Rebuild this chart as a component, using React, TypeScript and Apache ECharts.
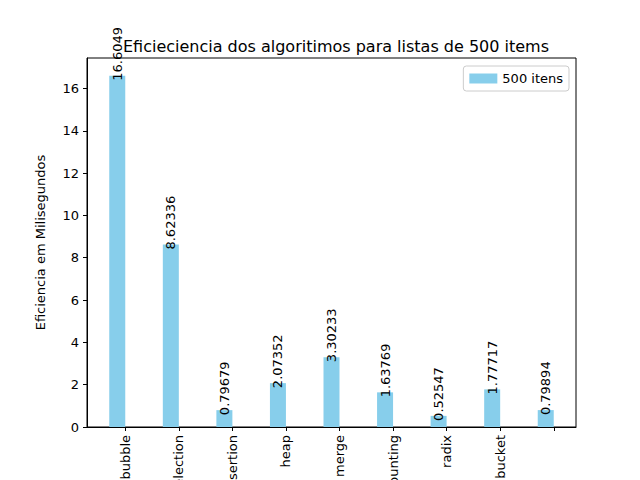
import React, { useRef, useEffect } from "react";
import * as echarts from "echarts";

const algorithms = ["bubble", "selection", "insertion", "heap", "merge", "counting", "radix", "bucket", ""];
const times = [16.6049, 8.62336, 0.79679, 2.07352, 3.30233, 1.63769, 0.52547, 1.77717, 0.79894];
const yTicks = [0, 2, 4, 6, 8, 10, 12, 14, 16];

const FONT = "DejaVu Sans";

export default function App() {
  const ref = useRef<HTMLDivElement>(null);

  useEffect(() => {
    if (!ref.current) return;
    const chart = echarts.init(ref.current, undefined, { renderer: "svg" });
    const idx = algorithms.map((_, i) => i);
    chart.setOption({
      animation: false,
      textStyle: { fontFamily: FONT },
      title: {
        text: "Eficieciencia dos algoritimos para listas de 500 items",
        left: 331,
        top: 33,
        textAlign: "center",
        textStyle: { fontFamily: FONT, fontSize: 16, fontWeight: "normal", color: "#000" },
      },
      legend: {
        top: 66,
        right: 71,
        data: ["500 itens"],
        itemWidth: 28,
        itemHeight: 10,
        itemGap: 8,
        padding: [6, 6, 6, 6],
        borderColor: "#ccc",
        borderWidth: 1,
        borderRadius: 3,
        icon: "rect",
        textStyle: { fontFamily: FONT, fontSize: 13, color: "#000" },
      },
      grid: {
        left: 87, right: 64, top: 58, bottom: 53,
        outerBoundsMode: "none",
        containLabel: false,
        show: true, borderColor: "#000", borderWidth: 1, backgroundColor: "transparent",
      },
      xAxis: {
        type: "value",
        min: -0.715,
        max: 8.415,
        splitLine: { show: false },
        axisLine: { onZero: false, lineStyle: { color: "#000" } },
        axisTick: { customValues: idx, length: 4, lineStyle: { color: "#000" } },
        axisLabel: {
          customValues: idx,
          rotate: 90,
          color: "#000",
          fontSize: 13,
          fontFamily: FONT,
          formatter: (v: number) => algorithms[Math.round(v)] ?? "",
        },
      },
      yAxis: {
        type: "value",
        min: 0,
        max: 17.44,
        interval: 2,
        name: "Eficiencia em Milisegundos",
        nameLocation: "middle",
        nameGap: 40,
        nameTextStyle: { fontFamily: FONT, fontSize: 13, color: "#000" },
        splitLine: { show: false },
        axisLine: { show: true, onZero: false, lineStyle: { color: "#000" } },
        axisTick: { show: true, length: 4, lineStyle: { color: "#000" } },
        axisLabel: {
          color: "#000",
          fontSize: 13,
          fontFamily: FONT,
          formatter: (v: number) => (yTicks.includes(v) ? String(v) : ""),
          showMaxLabel: false,
        },
      },
      series: [
        {
          name: "500 itens",
          type: "bar",
          barWidth: 16,
          itemStyle: { color: "#87CEEB" },
          data: times.map((v, i) => [i - 0.15, v]),
          label: {
            show: true,
            position: "top",
            rotate: 90,
            align: "left",
            verticalAlign: "middle",
            offset: [-8, 0],
            distance: 3,
            color: "#000",
            fontSize: 13,
            fontFamily: FONT,
            formatter: (p: any) => String(p.value[1]),
          },
        },
      ],
    });
    return () => chart.dispose();
  }, []);

  return (
    <div
      ref={ref}
      style={{ position: "absolute", left: 0, top: 0, width: 640, height: 480, overflow: "hidden" }}
    />
  );
}
